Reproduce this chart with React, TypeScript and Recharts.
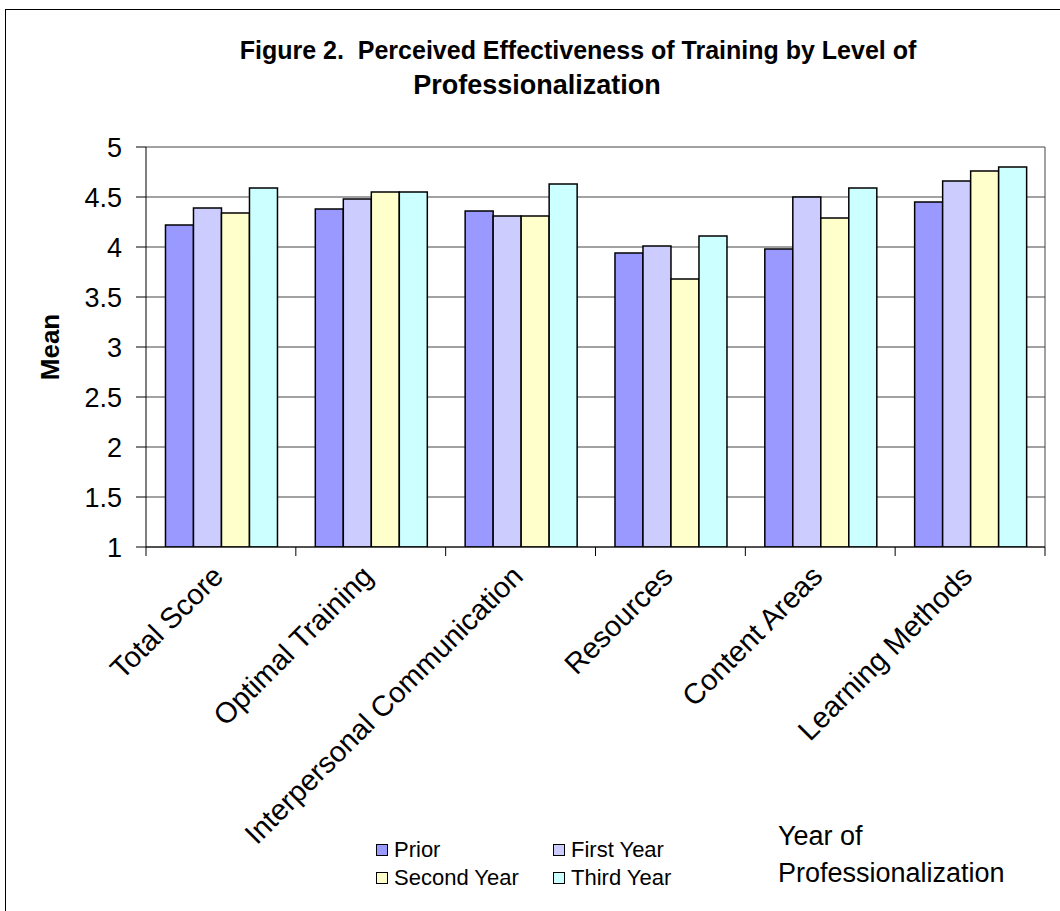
import React from 'react';
import { BarChart, Bar, XAxis, YAxis, CartesianGrid } from 'recharts';

const categories = [
  'Total Score',
  'Optimal Training',
  'Interpersonal Communication',
  'Resources',
  'Content Areas',
  'Learning Methods',
];
const prior = [4.22, 4.38, 4.36, 3.94, 3.98, 4.45];
const firstYear = [4.39, 4.48, 4.31, 4.01, 4.5, 4.66];
const secondYear = [4.34, 4.55, 4.31, 3.68, 4.29, 4.76];
const thirdYear = [4.59, 4.55, 4.63, 4.11, 4.59, 4.8];
const yTicks = [1, 1.5, 2, 2.5, 3, 3.5, 4, 4.5, 5];

const seriesKeys = ['prior', 'firstYear', 'secondYear', 'thirdYear'];
const seriesNames = ['Prior', 'First Year', 'Second Year', 'Third Year'];
const seriesColors = ['#9999FF', '#CCCCFF', '#FFFFCC', '#CCFFFF'];

const data = categories.map((name, i) => ({
  name,
  prior: prior[i],
  firstYear: firstYear[i],
  secondYear: secondYear[i],
  thirdYear: thirdYear[i],
}));

const W = 1060;
const H = 911;
const PLOT_LEFT = 146;
const PLOT_RIGHT = 1045;
const PLOT_TOP = 147;
const PLOT_BOTTOM = 547;
const HALF_BAND = (PLOT_RIGHT - PLOT_LEFT) / categories.length / 2;
const FONT = '"Liberation Sans", Arial, sans-serif';

function CategoryTick(props: any) {
  const { x, y, payload } = props;
  const tx = x + 4;
  const ty = y + 31;
  const last = payload.value === categories[categories.length - 1];
  return (
    <g>
      <line x1={x - HALF_BAND} x2={x - HALF_BAND} y1={y} y2={y + 9} stroke="#000" />
      {last && <line x1={x + HALF_BAND} x2={x + HALF_BAND} y1={y} y2={y + 9} stroke="#000" />}
      <text
        x={tx}
        y={ty}
        transform={`rotate(-45, ${tx}, ${ty})`}
        textAnchor="end"
        fontSize={29}
        fontFamily={FONT}
        fill="#000"
      >
        {payload.value}
      </text>
    </g>
  );
}

export default function App() {
  return (
    <div
      style={{
        position: 'absolute',
        left: 0,
        top: 0,
        width: W,
        height: H,
        overflow: 'hidden',
        background: '#fff',
        fontFamily: FONT,
      }}
    >
      <div
        style={{
          position: 'absolute',
          left: 5,
          top: 9,
          width: W + 20,
          height: H + 20,
          border: '1.5px solid #000',
        }}
      />
      <div style={{ position: 'absolute', left: 0, top: 0 }}>
        <BarChart
          width={W}
          height={H}
          data={data}
          margin={{ top: PLOT_TOP, right: W - PLOT_RIGHT, bottom: H - PLOT_BOTTOM - 30, left: 0 }}
          barCategoryGap="13%"
          barGap={0}
        >
          <CartesianGrid
            vertical={true}
            stroke="#444"
            verticalCoordinatesGenerator={({ offset }: any) => [offset.left + offset.width]}
          />
          <XAxis
            dataKey="name"
            interval={0}
            height={30}
            tickSize={0}
            tickMargin={0}
            tickLine={false}
            stroke="#000"
            tick={<CategoryTick />}
          />
          <YAxis
            width={PLOT_LEFT}
            domain={[1, 5]}
            ticks={yTicks}
            allowDataOverflow
            tickSize={10}
            tickMargin={14}
            stroke="#000"
            tick={{ fontSize: 27, fill: '#000', fontFamily: FONT }}
          />
          {seriesKeys.map((k, i) => (
            <Bar
              key={k}
              dataKey={k}
              name={seriesNames[i]}
              fill={seriesColors[i]}
              stroke="#000"
              strokeWidth={1.5}
              isAnimationActive={false}
            />
          ))}
        </BarChart>
      </div>

      <div
        style={{
          position: 'absolute',
          left: 0,
          width: W,
          top: 33,
          textAlign: 'center',
          fontWeight: 'bold',
          fontSize: 25,
          lineHeight: '35px',
          color: '#000',
        }}
      >
        <div style={{ paddingLeft: 96 }}>Figure 2.&nbsp; Perceived Effectiveness of Training by Level of</div>
        <div style={{ marginLeft: 14, fontSize: 27 }}>Professionalization</div>
      </div>

      <div
        style={{
          position: 'absolute',
          left: 50,
          top: 347,
          transform: 'translate(-50%, -50%) rotate(-90deg)',
          fontWeight: 'bold',
          fontSize: 26,
          whiteSpace: 'nowrap',
        }}
      >
        Mean
      </div>

      {seriesNames.map((n, i) => (
        <div
          key={n}
          style={{
            position: 'absolute',
            left: i % 2 === 0 ? 376 : 553,
            top: i < 2 ? 836 : 864,
            display: 'flex',
            alignItems: 'center',
            fontSize: 22,
            lineHeight: '28px',
            whiteSpace: 'nowrap',
          }}
        >
          <span
            style={{
              display: 'inline-block',
              width: 10,
              height: 10,
              background: seriesColors[i],
              border: '1.5px solid #000',
              marginRight: 6,
            }}
          />
          {n}
        </div>
      ))}

      <div
        style={{
          position: 'absolute',
          left: 778,
          top: 818,
          fontSize: 27,
          lineHeight: '37px',
        }}
      >
        Year of
        <br />
        Professionalization
      </div>
    </div>
  );
}
